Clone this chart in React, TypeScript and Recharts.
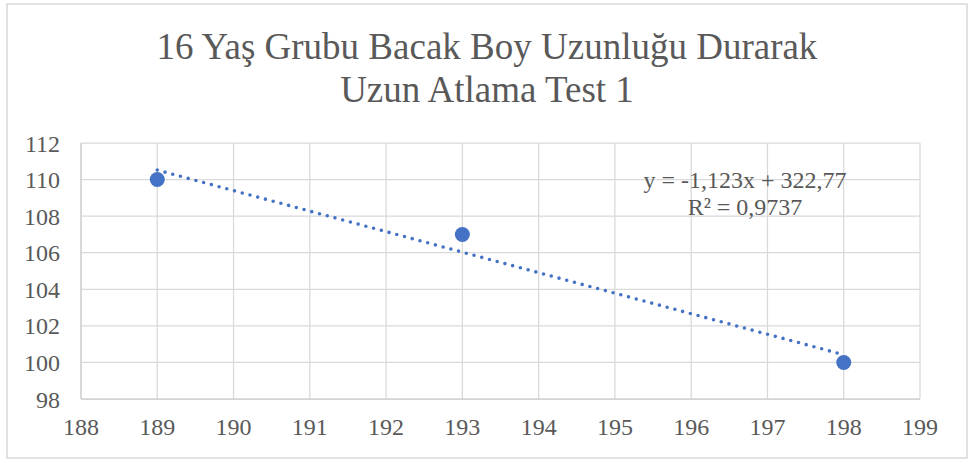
import React from "react";
import {
  ScatterChart,
  Scatter,
  XAxis,
  YAxis,
  CartesianGrid,
  ReferenceLine,
  Customized,
} from "recharts";

const legLength = [189, 193, 198];
const jumpTest = [110, 107, 100];
const xTicks = [188, 189, 190, 191, 192, 193, 194, 195, 196, 197, 198, 199];
const yTicks = [98, 100, 102, 104, 106, 108, 110, 112];
const trendX = [189, 198];
const trendY = [110.52, 100.42];
const titleLines = ["16 Yaş Grubu Bacak Boy Uzunluğu Durarak", "Uzun Atlama Test 1"];
const equationLines = ["y = -1,123x + 322,77", "R² = 0,9737"];

const points = legLength.map((x, i) => ({ x, y: jumpTest[i] }));
const trendSegment = trendX.map((x, i) => ({ x, y: trendY[i] }));

const FONT = "'Liberation Serif', 'Times New Roman', serif";
const TEXT = "#595959";
const GRID = "#d9d9d9";
const BLUE = "#4472C4";

const Marker = (props: any) => (
  <circle cx={props.cx} cy={props.cy} r={7.5} fill={BLUE} />
);

const Decorations = () => (
  <g>
    <rect x={7} y={4} width={960} height={454} fill="none" stroke={GRID} strokeWidth={1.5} />
    {titleLines.map((t, i) => (
      <text
        key={t}
        x={487}
        y={59 + i * 43}
        textAnchor="middle"
        fontFamily={FONT}
        fontSize={37}
        fill={TEXT}
      >
        {t}
      </text>
    ))}
    {equationLines.map((t, i) => (
      <text
        key={t}
        x={745}
        y={188 + i * 27}
        textAnchor="middle"
        fontFamily={FONT}
        fontSize={24}
        fill={TEXT}
      >
        {t}
      </text>
    ))}
  </g>
);

export default function App() {
  return (
    <div style={{ position: "absolute", left: 0, top: 0, width: 968, height: 459, background: "#fff" }}>
      <ScatterChart
        width={968}
        height={459}
        margin={{ top: 143, right: 48, bottom: 30, left: 21 }}
      >
        <CartesianGrid stroke={GRID} strokeWidth={1.25} />
        <XAxis
          type="number"
          dataKey="x"
          domain={[188, 199]}
          ticks={xTicks}
          interval={0}
          height={30}
          tickSize={0}
          tickMargin={19}
          tickLine={false}
          axisLine={{ stroke: "#cfcfcf", strokeWidth: 1.25 }}
          tick={{ fill: TEXT, fontSize: 24, fontFamily: FONT }}
        />
        <YAxis
          type="number"
          dataKey="y"
          domain={[98, 112]}
          ticks={yTicks}
          interval={0}
          width={60}
          tickSize={0}
          tickMargin={21}
          tickLine={false}
          axisLine={{ stroke: "#cfcfcf", strokeWidth: 1.25 }}
          tick={{ fill: TEXT, fontSize: 24, fontFamily: FONT }}
        />
        <Scatter data={points} shape={Marker} isAnimationActive={false} />
        <ReferenceLine
          segment={trendSegment}
          stroke={BLUE}
          strokeWidth={3.6}
          strokeDasharray="0 8"
          strokeLinecap="round"
          ifOverflow="visible"
        />
        <Customized component={Decorations} />
      </ScatterChart>
    </div>
  );
}
